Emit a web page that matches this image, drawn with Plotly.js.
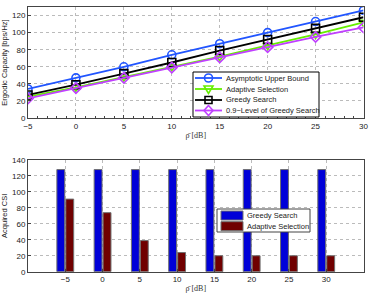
<!DOCTYPE html>
<html><head><meta charset="utf-8">
<script src="https://cdn.plot.ly/plotly-3.0.1.min.js"></script>
<style>body{margin:0;padding:0;background:#fff}#c{width:374px;height:294px}</style>
</head><body><div id="c"></div>
<script>
const snr = [-5, 0, 5, 10, 15, 20, 25, 30];
const upperBound = [34, 47, 60, 74, 87, 100, 113, 126];
const adaptiveCap = [25, 36, 48, 60, 72, 85, 98, 112];
const greedyCap = [27, 39, 52, 65, 79, 92, 105, 118];
const levelCap = [23, 35, 47, 59, 71, 83, 95, 106];
const greedyCSI = [128, 128, 128, 128, 128, 128, 128, 128];
const adaptiveCSI = [91, 74, 39, 24, 20, 20, 20, 20];
const capNames = ['Asymptotic Upper Bound', 'Adaptive Selection', 'Greedy Search', '0.9\u2212Level of Greedy Search'];
const csiNames = ['Greedy Search', 'Adaptive Selection'];

const W = 374, H = 294;
const F = 'Liberation Sans, Arial, sans-serif';
const lw = 1.8;
const capColors = ['#2155ff', '#66ee00', '#000000', '#c040ff'];
const capSymbols = ['circle-open', 'triangle-down-open', 'square-open', 'diamond-open'];
const csiColors = ['#0000d8', '#700000'];
const capData = [upperBound, adaptiveCap, greedyCap, levelCap];
const csiData = [greedyCSI, adaptiveCSI];

const traces = [];
capData.forEach((y, i) => traces.push({x: snr, y: y, name: capNames[i], type:'scatter', mode:'lines+markers',
  line:{color:capColors[i], width:lw},
  marker:{symbol:capSymbols[i], size:8, color:capColors[i], line:{color:capColors[i], width:1.6}},
  xaxis:'x', yaxis:'y'}));
csiData.forEach((y, i) => traces.push({x: snr, y: y, name: csiNames[i], type:'bar',
  marker:{color:csiColors[i], line:{color:'#707070', width:1}}, xaxis:'x2', yaxis:'y2'}));

const px = x => x / W, py = y => 1 - y / H;
const shapes = [], annotations = [];
// legend 1
shapes.push({type:'rect', xref:'paper', yref:'paper', x0:px(193), x1:px(319), y0:py(117), y1:py(72),
  line:{color:'#000', width:1}, fillcolor:'#fff', layer:'above'});
const ly1 = [78, 89, 100, 110.5];
capNames.forEach((n, i) => {
  const c = capColors[i], y = ly1[i], cx = 208.5, r = 4;
  shapes.push({type:'line', xref:'paper', yref:'paper', x0:px(195), x1:px(222), y0:py(y), y1:py(y), line:{color:c, width:lw}, layer:'above'});
  let sh;
  if (i === 0) sh = {type:'circle', x0:px(cx-r), x1:px(cx+r), y0:py(y+r), y1:py(y-r)};
  else if (i === 2) sh = {type:'rect', x0:px(cx-3.5), x1:px(cx+3.5), y0:py(y+3.5), y1:py(y-3.5)};
  else if (i === 1) sh = {type:'path', path:`M ${px(cx-4.5)} ${py(y-3)} L ${px(cx+4.5)} ${py(y-3)} L ${px(cx)} ${py(y+4.5)} Z`};
  else sh = {type:'path', path:`M ${px(cx)} ${py(y-5)} L ${px(cx+4.5)} ${py(y)} L ${px(cx)} ${py(y+5)} L ${px(cx-4.5)} ${py(y)} Z`};
  Object.assign(sh, {xref:'paper', yref:'paper', line:{color:c, width:1.6}, fillcolor:'rgba(0,0,0,0)', layer:'above'});
  shapes.push(sh);
  annotations.push({xref:'paper', yref:'paper', x:px(224), y:py(y), xanchor:'left', yanchor:'middle', showarrow:false,
    text:n, font:{family:F, size:7.5, color:'#222'}});
});
// legend 2
shapes.push({type:'rect', xref:'paper', yref:'paper', x0:px(217), x1:px(310), y0:py(232), y1:py(209),
  line:{color:'#444', width:1}, fillcolor:'#fff', layer:'above'});
const ly2 = [215.5, 226.2];
csiNames.forEach((n, i) => {
  const y = ly2[i];
  shapes.push({type:'rect', xref:'paper', yref:'paper', x0:px(221), x1:px(243), y0:py(y+4.5), y1:py(y-4.5),
    line:{color:'#707070', width:1}, fillcolor:csiColors[i], layer:'above'});
  annotations.push({xref:'paper', yref:'paper', x:px(245), y:py(y), xanchor:'left', yanchor:'middle', showarrow:false,
    text:n, font:{family:F, size:7.5, color:'#222'}});
});

const ax = {showline:true, mirror:true, linecolor:'#444', linewidth:1, ticks:'inside', ticklen:3, tickcolor:'#444',
  showgrid:true, gridcolor:'#bbb', griddash:'dot', gridwidth:1, zeroline:false,
  tickfont:{family:F, size:8, color:'#222'}};
const xdom = [28/W, 363.5/W];
const layout = {
  width:W, height:H, margin:{l:0,r:0,t:0,b:0}, paper_bgcolor:'#fff', plot_bgcolor:'#fff',
  showlegend:false, barmode:'group', bargap:0.52, bargroupgap:0.12,
  shapes: shapes, annotations: annotations,
  xaxis: Object.assign({}, ax, {domain:xdom, range:[-5,30], dtick:5, anchor:'y',
    minor:{ticks:'inside', dtick:1, ticklen:2, tickcolor:'#444', showgrid:false},
    title:{text:'\u03C1\u0304 [dB]', font:{family:'Liberation Serif, serif', size:8, color:'#333'}, standoff:2}}),
  yaxis: Object.assign({}, ax, {domain:[1-118/H, 1-7/H], range:[0,130], dtick:20, anchor:'x',
    title:{text:'Ergodic Capacity [bps/Hz]', font:{family:F, size:7.5, color:'#222'}, standoff:4}}),
  xaxis2: Object.assign({}, ax, {domain:xdom, range:[-10,35], tickvals:snr, anchor:'y2',
    title:{text:'\u03C1\u0304 [dB]', font:{family:'Liberation Serif, serif', size:8, color:'#333'}, standoff:2}}),
  yaxis2: Object.assign({}, ax, {domain:[1-271.7/H, 1-160/H], range:[0,140], dtick:20, anchor:'x2',
    title:{text:'Acquired CSI', font:{family:F, size:7.5, color:'#222'}, standoff:4}})
};
Plotly.newPlot('c', traces, layout, {staticPlot:true, displayModeBar:false});
</script></body></html>
